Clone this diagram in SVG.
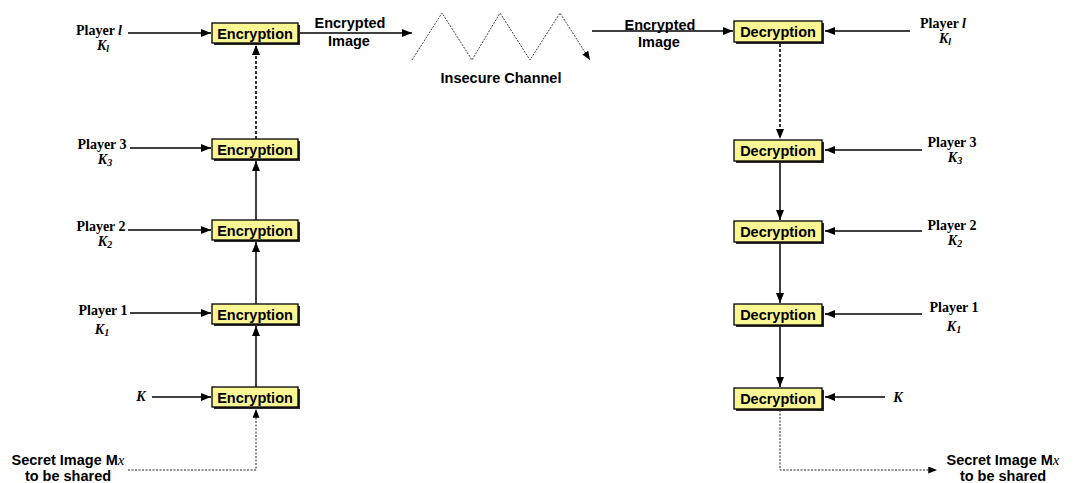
<svg xmlns="http://www.w3.org/2000/svg" width="1073" height="483" viewBox="0 0 1073 483">
  <style>
    .box { fill: #fbf694; stroke: #000; stroke-width: 1.3; }
    .shadow { fill: #2a2a2a; }
    .btxt { font-family: "Liberation Sans", Arial, sans-serif; font-weight: bold; font-size: 14.5px; fill: #000; text-anchor: middle; }
    .lbl { font-family: "Liberation Sans", Arial, sans-serif; font-weight: bold; font-size: 14.5px; fill: #000; text-anchor: middle; }
    .ser { font-family: "Liberation Serif", "Times New Roman", serif; font-weight: bold; font-size: 14px; fill: #000; text-anchor: middle; }
    .it { font-style: italic; }
    .sub { font-size: 10px; }
    .ln { stroke: #000; stroke-width: 1.5; fill: none; }
    .dash { stroke: #000; stroke-width: 1.6; fill: none; stroke-dasharray: 3 2; }
    .dot { stroke: #222; stroke-width: 1; fill: none; stroke-dasharray: 2 1.5; }
    .zig { stroke: #444; stroke-width: 1; fill: none; stroke-dasharray: 2 1.2; }
  </style>
  <defs>
    <marker id="ah" viewBox="0 0 10 8" refX="10" refY="4" markerWidth="10" markerHeight="8" markerUnits="userSpaceOnUse" orient="auto">
      <path d="M0,0 L10,4 L0,8 Z" fill="#000"/>
    </marker>
    <marker id="ahs" viewBox="0 0 10 8" refX="10" refY="4" markerWidth="9" markerHeight="7" markerUnits="userSpaceOnUse" orient="auto">
      <path d="M0,0 L10,4 L0,8 Z" fill="#000"/>
    </marker>
  </defs>

  <!-- connectors -->
  <g id="connectors">
    <!-- key inputs, encryption side -->
    <line class="ln" x1="128" y1="33" x2="211" y2="33" marker-end="url(#ah)"/>
    <line class="ln" x1="130" y1="148" x2="211" y2="148" marker-end="url(#ah)"/>
    <line class="ln" x1="128" y1="230" x2="211" y2="230" marker-end="url(#ah)"/>
    <line class="ln" x1="130" y1="313" x2="211" y2="313" marker-end="url(#ah)"/>
    <line class="ln" x1="152" y1="397" x2="211" y2="397" marker-end="url(#ah)"/>
    <!-- encryption chain -->
    <polyline class="dot" points="128,470 256,470 256,409" marker-end="url(#ahs)"/>
    <line class="ln" x1="256" y1="387" x2="256" y2="326" marker-end="url(#ah)"/>
    <line class="ln" x1="256" y1="304" x2="256" y2="242" marker-end="url(#ah)"/>
    <line class="ln" x1="256" y1="220" x2="256" y2="161" marker-end="url(#ah)"/>
    <line class="dash" x1="256" y1="139" x2="256" y2="45" marker-end="url(#ah)"/>
    <!-- out to channel -->
    <line class="ln" x1="299" y1="33" x2="412" y2="33" marker-end="url(#ah)"/>
    <!-- insecure channel -->
    <polyline class="zig" points="412,60 442,13 472,60 500,13 530,60 560,13 590,60" marker-end="url(#ahs)"/>
    <!-- into decryption -->
    <line class="ln" x1="592" y1="31" x2="733" y2="31" marker-end="url(#ah)"/>
    <!-- decryption chain -->
    <line class="dash" x1="780" y1="44" x2="780" y2="139" marker-end="url(#ah)"/>
    <line class="ln" x1="780" y1="162" x2="780" y2="220" marker-end="url(#ah)"/>
    <line class="ln" x1="780" y1="243" x2="780" y2="303" marker-end="url(#ah)"/>
    <line class="ln" x1="780" y1="326" x2="780" y2="387" marker-end="url(#ah)"/>
    <polyline class="dot" points="780,410 780,470 937,470" marker-end="url(#ahs)"/>
    <!-- key inputs, decryption side -->
    <line class="ln" x1="910" y1="31" x2="825" y2="31" marker-end="url(#ah)"/>
    <line class="ln" x1="922" y1="150" x2="825" y2="150" marker-end="url(#ah)"/>
    <line class="ln" x1="922" y1="231" x2="825" y2="231" marker-end="url(#ah)"/>
    <line class="ln" x1="922" y1="314" x2="825" y2="314" marker-end="url(#ah)"/>
    <line class="ln" x1="885" y1="397" x2="825" y2="397" marker-end="url(#ah)"/>
  </g>

  <!-- encryption stages -->
  <g id="enc-l">
    <rect class="shadow" x="214" y="25" width="86" height="20"/>
    <rect class="box" x="212" y="23" width="86" height="20"/>
    <text class="btxt" x="255" y="38.5">Encryption</text>
  </g>
  <g id="enc-3">
    <rect class="shadow" x="214" y="141" width="86" height="20"/>
    <rect class="box" x="212" y="139" width="86" height="20"/>
    <text class="btxt" x="255" y="154.5">Encryption</text>
  </g>
  <g id="enc-2">
    <rect class="shadow" x="214" y="222" width="86" height="20"/>
    <rect class="box" x="212" y="220" width="86" height="20"/>
    <text class="btxt" x="255" y="235.5">Encryption</text>
  </g>
  <g id="enc-1">
    <rect class="shadow" x="214" y="306" width="86" height="20"/>
    <rect class="box" x="212" y="304" width="86" height="20"/>
    <text class="btxt" x="255" y="319.5">Encryption</text>
  </g>
  <g id="enc-k">
    <rect class="shadow" x="214" y="389" width="86" height="20"/>
    <rect class="box" x="212" y="387" width="86" height="20"/>
    <text class="btxt" x="255" y="402.5">Encryption</text>
  </g>

  <!-- decryption stages -->
  <g id="dec-l">
    <rect class="shadow" x="736" y="23" width="88" height="21"/>
    <rect class="box" x="734" y="21" width="88" height="21"/>
    <text class="btxt" x="778" y="36.5">Decryption</text>
  </g>
  <g id="dec-3">
    <rect class="shadow" x="736" y="142" width="88" height="21"/>
    <rect class="box" x="734" y="140" width="88" height="21"/>
    <text class="btxt" x="778" y="155.5">Decryption</text>
  </g>
  <g id="dec-2">
    <rect class="shadow" x="736" y="223" width="88" height="21"/>
    <rect class="box" x="734" y="221" width="88" height="21"/>
    <text class="btxt" x="778" y="236.5">Decryption</text>
  </g>
  <g id="dec-1">
    <rect class="shadow" x="736" y="306" width="88" height="21"/>
    <rect class="box" x="734" y="304" width="88" height="21"/>
    <text class="btxt" x="778" y="319.5">Decryption</text>
  </g>
  <g id="dec-k">
    <rect class="shadow" x="736" y="390" width="88" height="21"/>
    <rect class="box" x="734" y="388" width="88" height="21"/>
    <text class="btxt" x="778" y="403.5">Decryption</text>
  </g>

  <!-- key labels, encryption side (player name above its key) -->
  <g id="key-enc-l">
    <text class="ser" x="99" y="35">Player <tspan class="it">l</tspan></text>
    <text class="ser it" x="103" y="50">K<tspan class="sub" dy="2">l</tspan></text>
  </g>
  <g id="key-enc-3">
    <text class="ser" x="102" y="149">Player 3</text>
    <text class="ser it" x="105" y="164">K<tspan class="sub" dy="2">3</tspan></text>
  </g>
  <g id="key-enc-2">
    <text class="ser" x="101" y="231">Player 2</text>
    <text class="ser it" x="105" y="246">K<tspan class="sub" dy="2">2</tspan></text>
  </g>
  <g id="key-enc-1">
    <text class="ser" x="103" y="315">Player 1</text>
    <text class="ser it" x="102" y="334">K<tspan class="sub" dy="2">1</tspan></text>
  </g>
  <g id="key-enc-k">
    <text class="ser it" x="141" y="401">K</text>
  </g>

  <!-- key labels, decryption side -->
  <g id="key-dec-l">
    <text class="ser" x="943" y="28">Player <tspan class="it">l</tspan></text>
    <text class="ser it" x="945" y="43">K<tspan class="sub" dy="2">l</tspan></text>
  </g>
  <g id="key-dec-3">
    <text class="ser" x="952" y="147">Player 3</text>
    <text class="ser it" x="955" y="162">K<tspan class="sub" dy="2">3</tspan></text>
  </g>
  <g id="key-dec-2">
    <text class="ser" x="952" y="230">Player 2</text>
    <text class="ser it" x="955" y="245">K<tspan class="sub" dy="2">2</tspan></text>
  </g>
  <g id="key-dec-1">
    <text class="ser" x="954" y="312">Player 1</text>
    <text class="ser it" x="954" y="331">K<tspan class="sub" dy="2">1</tspan></text>
  </g>
  <g id="key-dec-k">
    <text class="ser it" x="898" y="402">K</text>
  </g>

  <!-- channel labels -->
  <g id="label-out">
    <text class="lbl" x="350" y="28">Encrypted</text>
    <text class="lbl" x="349" y="46">Image</text>
  </g>
  <g id="label-channel">
    <text class="lbl" x="501" y="83">Insecure Channel</text>
  </g>
  <g id="label-in">
    <text class="lbl" x="660" y="30">Encrypted</text>
    <text class="lbl" x="659" y="47">Image</text>
  </g>

  <!-- secret image labels -->
  <g id="secret-src">
    <text class="lbl" x="68" y="465">Secret Image M<tspan font-family="Liberation Serif, serif" font-style="italic" font-weight="normal" font-size="15px">x</tspan></text>
    <text class="lbl" x="68" y="481">to be shared</text>
  </g>
  <g id="secret-dst">
    <text class="lbl" x="1003" y="465">Secret Image M<tspan font-family="Liberation Serif, serif" font-style="italic" font-weight="normal" font-size="15px">x</tspan></text>
    <text class="lbl" x="1003" y="481">to be shared</text>
  </g>
</svg>
